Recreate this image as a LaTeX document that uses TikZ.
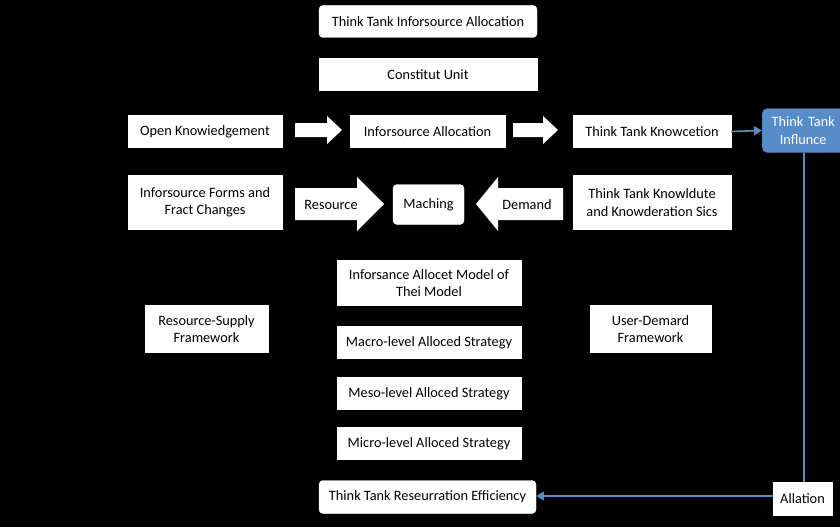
\documentclass[tikz,border=0pt]{standalone}
\usepackage{fontspec}
\setmainfont{Carlito}
\usetikzlibrary{arrows.meta}
\begin{document}
\begin{tikzpicture}[x=1pt,y=-1pt,
  every node/.style={font=\fontsize{14.3}{17.5}\selectfont, align=center, inner sep=0pt},
  wbox/.style={fill=white, draw=white, text=black},
  rbox/.style={wbox, rounded corners=4pt},
  bluebox/.style={fill=blueC, draw=blueC!80!black, text=white, rounded corners=5pt},
  blk/.style={fill=white},
  conn/.style={draw=blueC, line width=1.6pt},
  tip/.style={-{Triangle[length=8pt,width=9pt]}}]
\definecolor{blueC}{RGB}{88,140,200}
\fill[black] (0,0) rectangle (840,527);
\useasboundingbox (0,0) rectangle (840,527);

% top
\node[rbox, minimum width=218pt, minimum height=32pt] (title) at (428,21.5) {Think Tank Inforsource Allocation};
\node[wbox, minimum width=218pt, minimum height=32pt] (unit) at (428,74.5) {Constitut Unit};

% row 1
\node[wbox, minimum width=154pt, minimum height=32pt] (open) at (205,131.5) {Open Knowiedgement};
\node[wbox, minimum width=155pt, minimum height=32pt] (alloc) at (427.5,131.5) {Inforsource Allocation};
\node[wbox, minimum width=158pt, minimum height=32pt] (knowc) at (652,131.5) {Think Tank Knowcetion};
\node[bluebox, minimum width=90pt, minimum height=44pt, anchor=west, text width=88pt] (infl) at (762,130.5) {\hspace*{-8pt}Think Tank\\\hspace*{-8pt}Influnce};

\fill[blk] (295,123) -- (327,123) -- (327,116) -- (342,130) -- (327,144) -- (327,137) -- (295,137) -- cycle;
\fill[blk] (513,123) -- (543,123) -- (543,116) -- (558,130) -- (543,144) -- (543,137) -- (513,137) -- cycle;

% row 2
\node[wbox, minimum width=154pt, minimum height=54pt] (forms) at (205,202.5) {Inforsource Forms and\\Fract Changes};
\node[rbox, minimum width=71pt, minimum height=40pt] (mach) at (428.5,204.5) {Maching};
\node[wbox, minimum width=158pt, minimum height=54pt] (knowl) at (652,202.5) {Think Tank Knowldute\\and Knowderation Sics};

\fill[blk] (295,188) -- (357,188) -- (357,177) -- (384,204) -- (357,231) -- (357,220) -- (295,220) -- cycle;
\node[text=black] (res) at (331,205) {Resource};
\fill[blk] (563,188) -- (498,188) -- (498,177) -- (476,204) -- (498,231) -- (498,220) -- (563,220) -- cycle;
\node[text=black] (dem) at (527,205) {Demand};

% middle column
\node[wbox, minimum width=184pt, minimum height=45pt] (model) at (429,283) {Inforsance Allocet Model of\\Thei Model};
\node[wbox, minimum width=184pt, minimum height=32pt] (macro) at (429,342.5) {Macro-level Alloced Strategy};
\node[wbox, minimum width=184pt, minimum height=32pt] (meso) at (429,393.5) {Meso-level Alloced Strategy};
\node[wbox, minimum width=184pt, minimum height=32pt] (micro) at (429,443.5) {Micro-level Alloced Strategy};

\node[wbox, minimum width=123pt, minimum height=47pt] (supply) at (206.5,329) {Resource-Supply\\Framework};
\node[wbox, minimum width=121pt, minimum height=47pt] (user) at (650.5,329) {User-Demard\\Framework};

% bottom
\node[rbox, minimum width=217pt, minimum height=33pt] (eff) at (427.5,497) {Think Tank Reseurration Efficiency};
\node[wbox, minimum width=59pt, minimum height=33pt] (alla) at (802.5,499) {Allation};

% connectors
\coordinate (vx) at (804,0);
\coordinate (hy) at (0,496);
\draw[conn, tip] (knowc.east) -- (infl.west);
\draw[conn] (infl.south -| vx) -- (alla.north -| vx);
\draw[conn, tip] (alla.west |- hy) -- (eff.east |- hy);
\end{tikzpicture}
\end{document}
